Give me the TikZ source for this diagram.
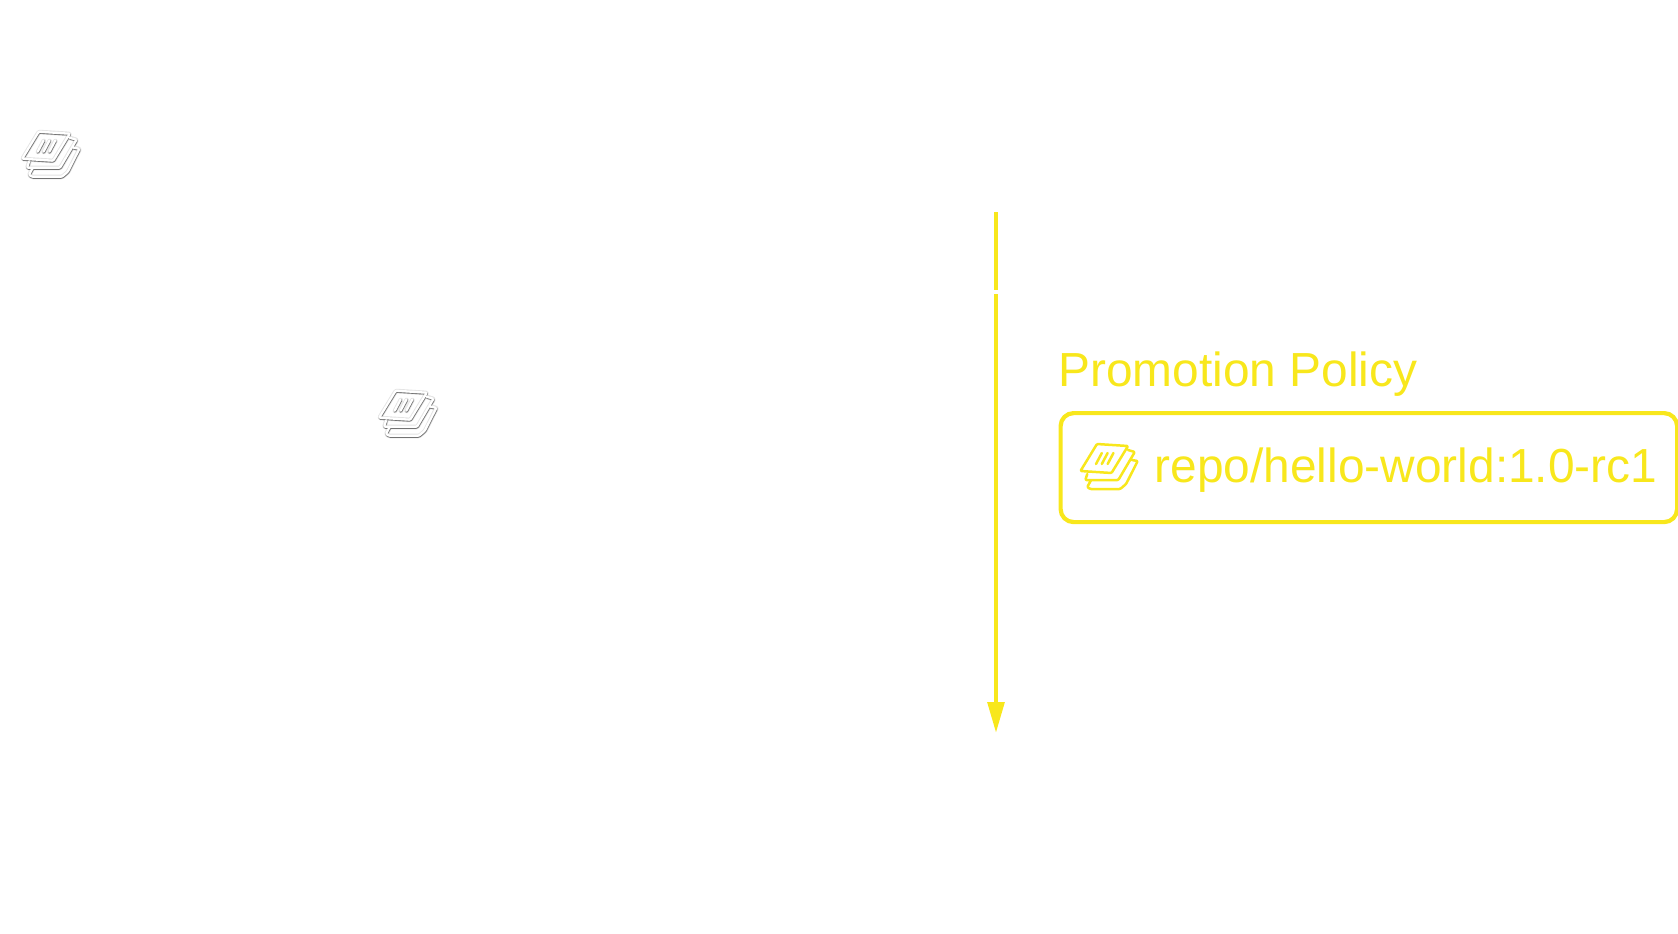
\documentclass[tikz,border=0pt]{standalone}
\usepackage{fontspec}
\setmainfont{Liberation Sans}
\usetikzlibrary{arrows.meta}
\definecolor{signal}{HTML}{F8E71C}
\tikzset{
  x=1pt,y=-1pt,
  iconpath/.pic={
    \path[pic actions,line join=round,line cap=round,rounded corners=1pt,x=0.97pt]
      (18,1)--(50,3)--(33,30)--(1,28)--cycle
      (50,7)--(57,9)--(40,37)--(6,37)--(8,31)
      (54,17)--(60,18)--(48,41)--(42,46)--(11,46)--(8,44)--(12,37)
      (23,10)--(17,21) (29,10)--(23,21) (35,10)--(29,21);
  },
  yellowicon/.style={draw=signal,line width=2.5pt},
  haloicon/.style={draw=gray!22,line width=4.6pt},
  darkicon/.style={draw=black!55,line width=2.7pt},
  whiteicon/.style={draw=white,line width=2.3pt},
  flow/.style={draw=signal,line width=4.4pt},
  policybox/.style={draw=signal,line width=4.2pt,rounded corners=13pt,minimum width=616.5pt,minimum height=109pt,anchor=north west,inner sep=0pt},
  caption/.style={text=signal,font=\fontsize{47.85}{48}\selectfont,anchor=base west,inner sep=0pt},
}
\begin{document}
\begin{tikzpicture}
\useasboundingbox (0,0) rectangle (1678,934);
% embossed white icons
\foreach \px/\py in {21.5/131,378.5/390}{
  \pic[haloicon] at (\px,\py) {iconpath};
  \pic[darkicon] at (\px,\py+0.4) {iconpath};
  \pic[whiteicon] at (\px-0.3,\py-0.3) {iconpath};
}
% arrow
\coordinate (flowtop) at (996,212);
\coordinate (gaptop) at (996,290);
\coordinate (gapbot) at (996,294);
\coordinate (flowend) at (996,733);
\draw[flow] (flowtop) -- (gaptop);
\draw[flow,-{Triangle[length=31pt,width=16.5pt,fill=signal]}] (gapbot) -- (flowend);
% policy
\node[policybox] (box) at (1058.5,411) {};
\node[caption] (title) at (1058,386) {Promotion Policy};
\pic[yellowicon] at (1079.5,443) {iconpath};
\node[caption] (repo) at (1154.5,482) {repo/hello-world:1.0-rc1};
\end{tikzpicture}
\end{document}
